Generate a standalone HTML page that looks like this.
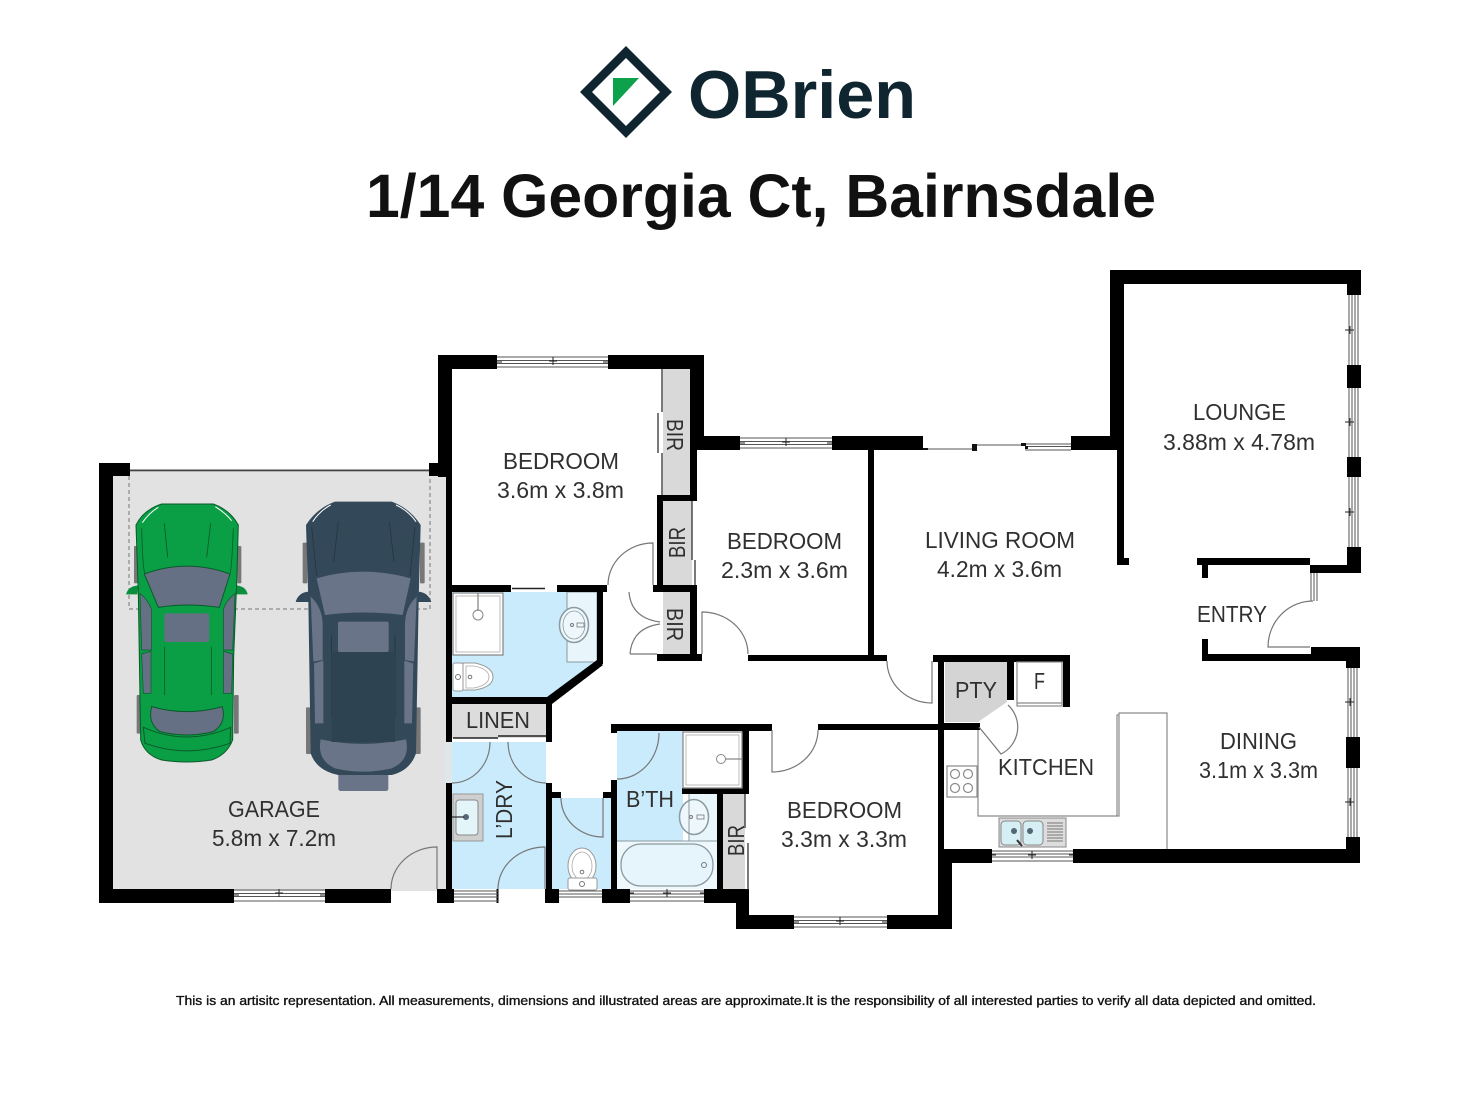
<!DOCTYPE html>
<html><head><meta charset="utf-8"><style>
html,body{margin:0;padding:0;background:#fff}
svg{display:block}
text{font-family:"Liberation Sans",sans-serif}
.l{font-size:23px;fill:#303030}
.w{fill:#000}
.t{fill:none;stroke:#777;stroke-width:1.2}
.d{fill:none;stroke:#111;stroke-width:1.2}
.f{fill:#fff;stroke:#8a8a8a;stroke-width:1.3}
</style></head><body>
<svg width="1472" height="1104" viewBox="0 0 1472 1104" xmlns="http://www.w3.org/2000/svg">
<rect width="1472" height="1104" fill="#fff"/>

<!-- logo -->
<path fill-rule="evenodd" fill="#0f2630" d="M626,46L672,92L626,138L580,92Z M626,58L592,92L626,126L660,92Z"/>
<path d="M613,78H639L613,106Z" fill="#0ca14a"/>
<text x="688" y="118" font-size="68" font-weight="bold" fill="#0f2630" textLength="228" lengthAdjust="spacingAndGlyphs">OBrien</text>
<text x="366" y="217" font-size="61" font-weight="bold" fill="#111" textLength="790" lengthAdjust="spacingAndGlyphs">1/14 Georgia Ct, Bairnsdale</text>

<!-- floors -->
<rect x="113" y="471" width="333" height="420" fill="#e2e2e2"/>
<rect x="445" y="742" width="7" height="41" fill="#dfe7ea"/>
<path d="M452,592H597V662L552,697H452Z" fill="#c9ebfb"/>
<rect x="567" y="592" width="30" height="70" fill="#e8f6fc" stroke="#8a9aa0" stroke-width="1"/>
<rect x="452" y="704" width="94" height="34" fill="#dcdcdc"/>
<rect x="452" y="742" width="94" height="147" fill="#c9ebfb"/>
<rect x="552" y="798" width="59" height="91" fill="#c9ebfb"/>
<rect x="617" y="731" width="66" height="110" fill="#c9ebfb"/>
<rect x="689" y="794" width="28" height="47" fill="#e8f6fc"/>
<rect x="617" y="841" width="100" height="48" fill="#eef8fc"/>
<rect x="723" y="794" width="22" height="96" fill="#d9d9d9"/>
<rect x="663" y="369" width="27" height="126" fill="#d9d9d9"/>
<rect x="663" y="501" width="29" height="84" fill="#d9d9d9"/>
<rect x="663" y="592" width="27" height="62" fill="#d9d9d9"/>
<path d="M945,662H1007V702L978,722H945Z" fill="#d4d4d4"/>

<!-- garage door dashed -->
<path d="M129,476V609H430V476" fill="none" stroke="#777" stroke-width="1" stroke-dasharray="4 3"/>
<rect x="129" y="469.500" width="301" height="1.800" fill="#444"/>

<!-- cars (zoom coords) -->
<g transform="translate(90,450) scale(.33333)">
 <g>
  <rect x="132" y="288" width="12" height="112" rx="3" fill="#777"/><rect x="442" y="288" width="12" height="112" rx="3" fill="#777"/>
  <rect x="140" y="735" width="14" height="116" rx="3" fill="#777"/><rect x="432" y="735" width="14" height="116" rx="3" fill="#777"/>
  <path d="M145,406Q115,408 108,433H142Z M438,406Q468,408 473,433H438Z" fill="#0a8f3f"/>
  <path d="M215,162H370Q420,180 445,225L440,400L431,620L428,870Q410,915 365,930Q290,942 215,930Q165,915 152,870L148,620L145,430L138,225Q160,180 215,162Z" fill="#0a9e45" stroke="#0b5a2a" stroke-width="3"/>
  <path d="M163,372Q290,325 420,372L388,472Q290,458 205,472Z" fill="#667085" stroke="#0b5a2a" stroke-width="3"/>
  <rect x="223" y="490" width="135" height="86" rx="7" fill="#667085"/>
  <path d="M150,430Q178,455 185,480V600L155,600Z M155,612L183,604V730H160Z M435,430Q405,455 400,480V600L428,600Z M428,612L400,604V730H425Z" fill="#667085" stroke="#0b5a2a" stroke-width="2"/>
  <path d="M185,770Q290,800 397,770Q410,820 370,845Q290,865 210,845Q172,820 185,770Z" fill="#667085" stroke="#0b5a2a" stroke-width="3"/>
  <path d="M160,832Q290,890 422,832L420,880Q290,925 165,880Z" fill="none" stroke="#0b5a2a" stroke-width="3"/>
  <path d="M223,220L233,322M362,220L350,322M224,590V735M364,590V735M155,235Q158,360 165,370M430,235Q425,360 420,370" fill="none" stroke="#0b5a2a" stroke-width="2.500"/>
  <path d="M157,218Q178,188 205,172M425,212Q405,188 376,170" fill="none" stroke="#fff" stroke-width="3"/>
 </g>
 <g>
  <rect x="638" y="278" width="14" height="122" rx="3" fill="#777"/><rect x="990" y="278" width="14" height="122" rx="3" fill="#777"/>
  <rect x="648" y="772" width="16" height="140" rx="3" fill="#777"/><rect x="976" y="772" width="16" height="140" rx="3" fill="#777"/>
  <path d="M655,425Q625,428 617,456H660Z M985,425Q1015,428 1024,456H985Z" fill="#33495a"/>
  <rect x="745" y="960" width="150" height="63" rx="7" fill="#6a7488"/>
  <path d="M735,155H905Q960,175 992,225L986,450L978,910Q960,962 905,975H745Q680,962 662,910L655,450L648,225Q680,175 735,155Z" fill="#33495a"/>
  <path d="M680,385Q820,345 962,385L938,495Q820,480 705,495Z" fill="#6a7488"/>
  <rect x="744" y="515" width="152" height="91" rx="5" fill="#6a7488"/>
  <path d="M662,440Q695,470 698,520V630L670,635Z M672,640L700,632V820H675Z M980,440Q947,470 945,520V630L972,635Z M970,640L943,632V820H966Z" fill="#6a7488"/>
  <path d="M692,868Q820,895 948,868Q962,930 905,955Q820,975 735,955Q680,930 692,868Z" fill="#6a7488"/>
  <path d="M745,215L731,335M898,215L912,335M725,555V800M915,555V800M665,232L680,378M975,232L960,378" fill="none" stroke="#26343f" stroke-width="2.500"/>
  <rect x="725" y="606" width="190" height="270" fill="#2e4351"/>
  <path d="M668,215Q690,182 722,165M978,215Q955,182 918,165" fill="none" stroke="#fff" stroke-width="3"/>
 </g>
</g>

<!-- walls -->
<g class="w">
<!-- garage -->
<rect x="99" y="463" width="14" height="440"/><rect x="99" y="463" width="31" height="13"/>
<rect x="429" y="463" width="16" height="13"/>
<rect x="99" y="889" width="135" height="14"/><rect x="325" y="889" width="66" height="14"/>
<rect x="437" y="889" width="17" height="14"/>
<rect x="496.500" y="889" width="2" height="14"/>
<!-- bedroom 1 -->
<rect x="438" y="355" width="14" height="122"/><rect x="446" y="477" width="6" height="265"/>
<rect x="446" y="783" width="6" height="110"/>
<rect x="438" y="355" width="59" height="14"/><rect x="608" y="355" width="96" height="14"/>
<rect x="690" y="355" width="14" height="95"/>
<rect x="690" y="436" width="50" height="14"/><rect x="832" y="436" width="91" height="14"/>
<rect x="690" y="450" width="7" height="51"/>
<rect x="657" y="495" width="40" height="6"/><rect x="657" y="495" width="6" height="97"/>
<rect x="653" y="585" width="44" height="7"/><rect x="690" y="592" width="7" height="62"/>
<rect x="657" y="654" width="45" height="7"/>
<rect x="748" y="655" width="139" height="6"/><rect x="868" y="450" width="6" height="206"/>
<!-- ensuite -->
<rect x="452" y="585" width="59" height="7"/><rect x="557" y="585" width="50" height="7"/>
<rect x="597" y="592" width="6" height="72"/>
<path d="M597,660L603,665L552,704L547,697Z"/>
<rect x="446" y="697" width="106" height="7"/>
<rect x="546" y="697" width="6" height="45"/>
<!-- laundry / wc -->
<rect x="546" y="783" width="6" height="110"/><rect x="545" y="889" width="14" height="14"/>
<rect x="552" y="792" width="9" height="6"/><rect x="603" y="792" width="8" height="6"/>
<rect x="611" y="780" width="6" height="109"/><rect x="611" y="724" width="6" height="9"/>
<rect x="611" y="724" width="161" height="7"/><rect x="818" y="724" width="120" height="6"/>
<rect x="742" y="724" width="7" height="70"/><rect x="682" y="788" width="67" height="6"/>
<rect x="717" y="794" width="6" height="95"/>
<rect x="602" y="889" width="28" height="14"/><rect x="704" y="889" width="45" height="14"/>
<rect x="736" y="889" width="13" height="40"/><rect x="736" y="915" width="58" height="14"/>
<rect x="887" y="915" width="65" height="14"/><rect x="938" y="849" width="14" height="80"/>
<rect x="938" y="655" width="6" height="200"/>
<!-- kitchen -->
<rect x="933" y="655" width="137" height="7"/><rect x="1007" y="662" width="7" height="38"/>
<rect x="1063" y="662" width="7" height="45"/>
<rect x="938" y="723" width="42" height="7"/>
<rect x="938" y="849" width="54" height="14"/><rect x="1073" y="849" width="287" height="14"/>
<!-- east -->
<rect x="1346" y="837" width="14" height="26"/><rect x="1346" y="737" width="14" height="31"/>
<rect x="1346" y="647" width="14" height="21"/><rect x="1311" y="647" width="49" height="14"/>
<rect x="1202" y="654" width="109" height="7"/><rect x="1202" y="639" width="6" height="22"/>
<rect x="1197" y="558" width="113" height="7"/><rect x="1202" y="565" width="6" height="13"/>
<rect x="1310" y="565" width="51" height="8"/><rect x="1347" y="547" width="14" height="26"/>
<rect x="1347" y="457" width="14" height="20"/><rect x="1347" y="365" width="14" height="23"/>
<rect x="1347" y="270" width="14" height="25"/>
<rect x="1110" y="270" width="251" height="14"/><rect x="1110" y="270" width="14" height="167"/>
<rect x="1117" y="437" width="7" height="128"/><rect x="1117" y="558" width="12" height="7"/>
<rect x="1071" y="436" width="46" height="14"/>
</g>

<!-- windows -->
<g fill="none" stroke="#555" stroke-width="1">
<path d="M234,890H325M234,893.500H325M234,896.500H325M234,901H325"/><path d="M279,889V897M275,893H283M234,895H239M320,895H325" stroke="#222"/>
<path d="M497,357H608M497,360.500H608M497,363.500H608M497,367H608"/><path d="M553,357V365M549,361H557M497,362H502M603,362H608" stroke="#222"/>
<path d="M740,438H832M740,441.500H832M740,444.500H832M740,448H832"/><path d="M786,438V446M782,442H790M740,443H745M827,443H832" stroke="#222"/>
<path d="M794,917H887M794,920.500H887M794,923.500H887M794,927H887"/><path d="M840,917V925M836,921H844M794,922H799M882,922H887" stroke="#222"/>
<path d="M992,851H1073M992,854H1073M992,857H1073M992,861H1073"/><path d="M1032,851V859M1028,855H1036M992,855H996M1069,855H1073" stroke="#222"/>
<path d="M454,891H498M454,894H498M454,897H498M454,901H498"/>
<path d="M559,891H602M559,894H602M559,897H602"/>
<path d="M630,891H704M630,894H704M630,897H704M630,901H704"/><path d="M667,889V897M663,893H671M630,893H634M700,893H704" stroke="#222"/>
<path d="M1349,295V365M1352,295V365M1355,295V365M1358,295V365"/><path d="M1345,330H1354M1350,326V334" stroke="#222"/>
<path d="M1349,388V457M1352,388V457M1355,388V457M1358,388V457"/><path d="M1345,422H1354M1350,418V426" stroke="#222"/>
<path d="M1349,477V547M1352,477V547M1355,477V547M1358,477V547"/><path d="M1345,512H1354M1350,508V516" stroke="#222"/>
<path d="M1348,668V737M1351,668V737M1354,668V737M1357,668V737"/><path d="M1345,702H1354M1350,698V706" stroke="#222"/>
<path d="M1348,768V837M1351,768V837M1354,768V837M1357,768V837"/><path d="M1345,802H1354M1350,798V806" stroke="#222"/>
<path d="M1311,573V601M1314,573V601M1317,573V601"/>
<path d="M923,449H975"/><path d="M975,445H1025"/><path d="M1025,444H1071M1025,446.500H1071M1025,450H1071"/>
</g>
<g fill="#111"><rect x="972" y="444" width="5" height="7"/><rect x="1021" y="443" width="5" height="3"/><rect x="1025" y="446" width="3" height="3"/><rect x="923" y="448" width="5" height="2"/></g>

<!-- thin black door leaves -->
<path d="M512,588.500H545" stroke="#222" stroke-width="1.500"/>
<path d="M453,738H498M498,736H546" stroke="#222" stroke-width="1.500"/>
<path d="M662,369V412M658,413V453M662,453V495M692,501V560M695,560V585M745,794V828M748,843V890" fill="none" stroke="#333" stroke-width="1.300"/>

<!-- doors arcs -->
<g class="t">
<path d="M437,889V847A46,42 0 0 0 391,889"/>
<path d="M653,585V543A45,42 0 0 0 608,585"/>
<path d="M702,654V612A46,42 0 0 1 748,654"/>
<path d="M629,592Q631,618 660,622M630,654H657M630,654Q632,628 660,624"/>
<path d="M932,661V703A45,42 0 0 1 887,661"/>
<path d="M490,742A38,41 0 0 1 452,783"/>
<path d="M508,742A38,41 0 0 0 546,783"/>
<path d="M545,889V847A47,42 0 0 0 498,889"/>
<path d="M603,798V837A42,39 0 0 1 561,798"/>
<path d="M659,733A42,46 0 0 1 617,779"/>
<path d="M772,730V772A46,42 0 0 0 818,730"/>
<path d="M1310,647H1268A45,46 0 0 1 1313,601"/>
<path d="M979,727L1001,754A30,30 0 0 0 1008,705"/>
</g>

<!-- kitchen counters -->
<g fill="none" stroke="#8a8a8a" stroke-width="1.200">
<path d="M978,730V816H1119V713H1167V849"/><path d="M1117,816V715H1119"/>
<rect x="947" y="766" width="30" height="31"/>
<circle cx="955" cy="774" r="4.500"/><circle cx="968" cy="774" r="4.500"/><circle cx="955" cy="788" r="4.500"/><circle cx="968" cy="788" r="4.500"/>
<rect x="1017" y="662" width="45" height="44"/><path d="M1017,703H1062"/>
</g>
<!-- kitchen sink -->
<rect x="999" y="818" width="67" height="29" fill="#ddd" stroke="#888"/>
<rect x="1001" y="821" width="20" height="24" rx="4" fill="#d6eff5" stroke="#888"/>
<rect x="1023" y="821" width="20" height="24" rx="4" fill="#d6eff5" stroke="#888"/>
<circle cx="1014" cy="831" r="3" fill="#567"/><circle cx="1030" cy="831" r="3" fill="#567"/>
<path d="M1047,823H1063M1047,826H1063M1047,829H1063M1047,832H1063M1047,835H1063M1047,838H1063M1047,841H1063" stroke="#777"/>
<path d="M1017,840L1022,846" stroke="#333" stroke-width="2"/>

<!-- ensuite fixtures -->
<rect x="453" y="593" width="50" height="62" class="f"/>
<rect x="456" y="596" width="44" height="56" fill="none" stroke="#aaa" stroke-width=".8"/>
<path d="M478,593V611" stroke="#888" stroke-width="1.300"/><circle cx="478" cy="615" r="5" fill="none" stroke="#888"/>
<ellipse cx="574" cy="625" rx="14.500" ry="17.500" fill="#eef8fc" stroke="#8a9aa0" stroke-width="1.500"/>
<ellipse cx="574" cy="625" rx="11" ry="14" fill="none" stroke="#8a9aa0" stroke-width=".8"/>
<circle cx="572" cy="625" r="1.500" fill="none" stroke="#777"/><rect x="577" y="623" width="7" height="4" fill="none" stroke="#777" stroke-width=".8"/>
<rect x="453" y="663" width="10" height="28" rx="2" fill="#fff" stroke="#999"/>
<path d="M463,663H475Q493,667 493,677Q493,687 475,690H463Z" fill="#fff" stroke="#999"/>
<path d="M466,666H474Q489,669 489,677Q489,685 474,688H466Z" fill="none" stroke="#aaa" stroke-width=".8"/>
<circle cx="458" cy="677" r="2.500" fill="none" stroke="#777"/><circle cx="470" cy="677" r="1.800" fill="none" stroke="#777"/>

<!-- laundry sink -->
<rect x="453" y="794" width="30" height="47" fill="#cfcfcf" stroke="#999"/>
<rect x="456" y="800" width="22" height="35" rx="3" fill="#e4f5fa" stroke="#888"/>
<circle cx="466" cy="817" r="3" fill="#567"/><path d="M452,817H464" stroke="#333" stroke-width="1.300"/>

<!-- wc toilet -->
<ellipse cx="582" cy="866" rx="14" ry="18" fill="#fff" stroke="#999"/>
<ellipse cx="582" cy="866" rx="10" ry="14" fill="none" stroke="#aaa" stroke-width=".8"/>
<rect x="568" y="878" width="29" height="12" rx="2" fill="#fff" stroke="#999"/>
<circle cx="582" cy="884" r="2.500" fill="none" stroke="#777"/><circle cx="582" cy="872" r="1.800" fill="none" stroke="#777"/>

<!-- bathroom fixtures -->
<rect x="683" y="732" width="59" height="56" class="f"/>
<rect x="686" y="735" width="53" height="50" fill="none" stroke="#aaa" stroke-width=".8"/>
<path d="M725,759H742" stroke="#888" stroke-width="1.300"/><circle cx="721" cy="759" r="4.500" fill="none" stroke="#888"/>
<ellipse cx="694" cy="817" rx="14.500" ry="17.500" fill="#eef8fc" stroke="#8a9aa0" stroke-width="1.500"/>
<circle cx="691" cy="817" r="1.500" fill="none" stroke="#777"/><rect x="697" y="815" width="7" height="4" fill="none" stroke="#777" stroke-width=".8"/>
<path d="M689,794V841M617,841H717" stroke="#8a9aa0" stroke-width="1"/>
<rect x="621" y="844" width="92" height="42" rx="20" fill="#e6f5fb" stroke="#8a9aa0" stroke-width="1.300"/>
<circle cx="704" cy="865" r="2.500" fill="none" stroke="#777"/>

<!-- labels -->
<g class="l">
<text x="503" y="469" textLength="116" lengthAdjust="spacingAndGlyphs">BEDROOM</text>
<text x="497" y="498" textLength="127" lengthAdjust="spacingAndGlyphs">3.6m x 3.8m</text>
<text x="727" y="549" textLength="115" lengthAdjust="spacingAndGlyphs">BEDROOM</text>
<text x="721" y="578" textLength="127" lengthAdjust="spacingAndGlyphs">2.3m x 3.6m</text>
<text x="925" y="548" textLength="150" lengthAdjust="spacingAndGlyphs">LIVING ROOM</text>
<text x="937" y="577" textLength="125" lengthAdjust="spacingAndGlyphs">4.2m x 3.6m</text>
<text x="1193" y="420" textLength="93" lengthAdjust="spacingAndGlyphs">LOUNGE</text>
<text x="1163" y="450" textLength="152" lengthAdjust="spacingAndGlyphs">3.88m x 4.78m</text>
<text x="1197" y="622" textLength="70" lengthAdjust="spacingAndGlyphs">ENTRY</text>
<text x="955" y="698" textLength="42" lengthAdjust="spacingAndGlyphs">PTY</text>
<text x="1034" y="689" textLength="11" lengthAdjust="spacingAndGlyphs">F</text>
<text x="998" y="775" textLength="96" lengthAdjust="spacingAndGlyphs">KITCHEN</text>
<text x="1220" y="749" textLength="77" lengthAdjust="spacingAndGlyphs">DINING</text>
<text x="1199" y="778" textLength="119" lengthAdjust="spacingAndGlyphs">3.1m x 3.3m</text>
<text x="787" y="818" textLength="115" lengthAdjust="spacingAndGlyphs">BEDROOM</text>
<text x="781" y="847" textLength="126" lengthAdjust="spacingAndGlyphs">3.3m x 3.3m</text>
<text x="228" y="817" textLength="92" lengthAdjust="spacingAndGlyphs">GARAGE</text>
<text x="212" y="846" textLength="124" lengthAdjust="spacingAndGlyphs">5.8m x 7.2m</text>
<text x="466" y="728" textLength="64" lengthAdjust="spacingAndGlyphs">LINEN</text>
<text x="626" y="807" textLength="48" lengthAdjust="spacingAndGlyphs">B’TH</text>
<text transform="translate(512,839) rotate(-90)" textLength="59" lengthAdjust="spacingAndGlyphs">L’DRY</text>
<text transform="translate(667,419) rotate(90)" textLength="32" lengthAdjust="spacingAndGlyphs">BIR</text>
<text transform="translate(685,558) rotate(-90)" textLength="31" lengthAdjust="spacingAndGlyphs">BIR</text>
<text transform="translate(667,608) rotate(90)" textLength="33" lengthAdjust="spacingAndGlyphs">BIR</text>
<text transform="translate(744,856) rotate(-90)" textLength="31" lengthAdjust="spacingAndGlyphs">BIR</text>
</g>

<text x="176" y="1005" font-size="13" fill="#111" stroke="#111" stroke-width=".35" textLength="1140" lengthAdjust="spacingAndGlyphs">This is an artisitc representation. All measurements, dimensions and illustrated areas are approximate.It is the responsibility of all interested parties to verify all data depicted and omitted.</text>
</svg>
</body></html>
